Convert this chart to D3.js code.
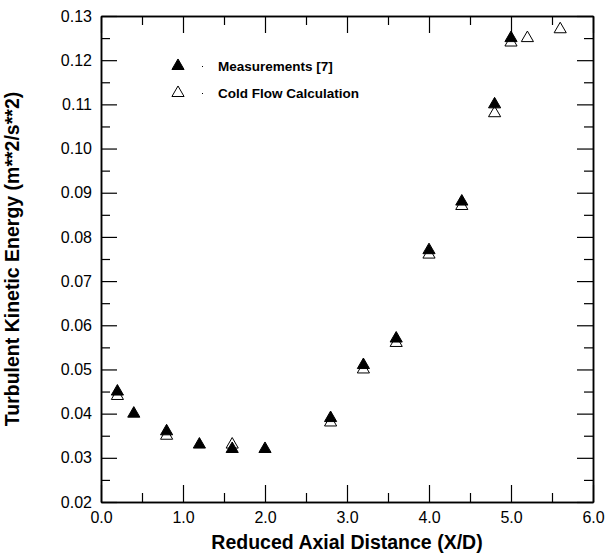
<!DOCTYPE html>
<html>
<head>
<meta charset="utf-8">
<script src="https://cdn.jsdelivr.net/npm/d3@7"></script>
<style>
  body { margin: 0; background: #fff; }
  text { font-family: "Liberation Sans", Arial, sans-serif; }
</style>
</head>
<body>
<div id="chart"></div>
<script>
const measX = [0.2, 0.4, 0.8, 1.2, 1.6, 2.0, 2.8, 3.2, 3.6, 4.0, 4.4, 4.8, 5.0];
const measY = [0.045, 0.040, 0.036, 0.033, 0.032, 0.032, 0.039, 0.051, 0.057, 0.077, 0.088, 0.110, 0.125];
const calcX = [0.2, 0.8, 1.6, 2.8, 3.2, 3.6, 4.0, 4.4, 4.8, 5.0, 5.2, 5.6];
const calcY = [0.044, 0.035, 0.033, 0.038, 0.050, 0.056, 0.076, 0.087, 0.108, 0.124, 0.125, 0.127];
const xMajor = [0, 1, 2, 3, 4, 5, 6];
const xMinor = [0.5, 1.5, 2.5, 3.5, 4.5, 5.5];
const yMajor = [0.02, 0.03, 0.04, 0.05, 0.06, 0.07, 0.08, 0.09, 0.10, 0.11, 0.12, 0.13];
const yMinor = [0.025, 0.035, 0.045, 0.055, 0.065, 0.075, 0.085, 0.095, 0.105, 0.115, 0.125];
const legendLabels = ["Measurements [7]", "Cold Flow Calculation"];

const W = 614, H = 555;
const margin = {top: 16, right: 21, bottom: 53, left: 101};
const width = W - margin.left - margin.right;
const height = H - margin.top - margin.bottom;

const svg = d3.select("#chart").append("svg")
    .attr("width", W)
    .attr("height", H)
  .append("g")
    .attr("transform", "translate(" + margin.left + "," + margin.top + ")");

const x = d3.scaleLinear().domain([0, 6]).range([0, width]);
const y = d3.scaleLinear().domain([0.02, 0.13]).range([height, 0]);

function styleAxis(g) {
    g.select(".domain").attr("stroke", "#000").attr("stroke-width", 1.5);
    g.selectAll(".tick line").attr("stroke", "#000").attr("stroke-width", 1.2);
    g.selectAll(".tick text").attr("fill", "#000")
        .style("font-family", "'Liberation Sans', Arial, sans-serif")
        .style("font-size", "16px");
}

// bottom axis with labels
svg.append("g")
    .attr("transform", "translate(0," + height + ")")
    .call(d3.axisBottom(x).tickValues(xMajor).tickFormat(d3.format(".1f"))
        .tickSizeInner(-17).tickSizeOuter(0).tickPadding(10))
    .call(styleAxis);
svg.append("g")
    .attr("transform", "translate(0," + height + ")")
    .call(d3.axisBottom(x).tickValues(xMinor).tickFormat("").tickSizeInner(-9).tickSizeOuter(0))
    .call(styleAxis);
// top axis
svg.append("g")
    .call(d3.axisTop(x).tickValues(xMajor).tickFormat("").tickSizeInner(-17).tickSizeOuter(0))
    .call(styleAxis);
svg.append("g")
    .call(d3.axisTop(x).tickValues(xMinor).tickFormat("").tickSizeInner(-9).tickSizeOuter(0))
    .call(styleAxis);

// left axis with labels
svg.append("g")
    .call(d3.axisLeft(y).tickValues(yMajor).tickFormat(d3.format(".2f"))
        .tickSizeInner(-16).tickSizeOuter(0).tickPadding(9))
    .call(styleAxis);
svg.append("g")
    .call(d3.axisLeft(y).tickValues(yMinor).tickFormat("").tickSizeInner(-9).tickSizeOuter(0))
    .call(styleAxis);
// right axis
svg.append("g")
    .attr("transform", "translate(" + width + ",0)")
    .call(d3.axisRight(y).tickValues(yMajor).tickFormat("").tickSizeInner(-16).tickSizeOuter(0))
    .call(styleAxis);
svg.append("g")
    .attr("transform", "translate(" + width + ",0)")
    .call(d3.axisRight(y).tickValues(yMinor).tickFormat("").tickSizeInner(-9).tickSizeOuter(0))
    .call(styleAxis);

// axis titles
svg.append("text")
    .attr("x", width / 2)
    .attr("y", height + 47)
    .attr("text-anchor", "middle")
    .style("font-size", "19.5px")
    .style("font-weight", "bold")
    .text("Reduced Axial Distance (X/D)");

svg.append("text")
    .attr("transform", "translate(" + (-82) + "," + (height / 2) + ") rotate(-90)")
    .attr("text-anchor", "middle")
    .style("font-size", "19.5px")
    .style("font-weight", "bold")
    .text("Turbulent Kinetic Energy (m**2/s**2)");

const tri = d3.symbol().type(d3.symbolTriangle).size(64);

// calculation (open) first, measurements on top
svg.selectAll(".calc")
    .data(calcX.map((d, i) => ({x: d, y: calcY[i]})))
    .enter().append("path")
    .attr("class", "calc")
    .attr("d", tri)
    .attr("transform", d => "translate(" + x(d.x) + "," + y(d.y) + ")")
    .attr("fill", "#fff")
    .attr("stroke", "#000")
    .attr("stroke-width", 1);

svg.selectAll(".meas")
    .data(measX.map((d, i) => ({x: d, y: measY[i]})))
    .enter().append("path")
    .attr("class", "meas")
    .attr("d", tri)
    .attr("transform", d => "translate(" + x(d.x) + "," + y(d.y) + ")")
    .attr("fill", "#000")
    .attr("stroke", "#000")
    .attr("stroke-width", 1);

// legend
const legend = svg.append("g").attr("transform", "translate(77,50)");
legendLabels.forEach((label, i) => {
    const g = legend.append("g").attr("transform", "translate(0," + (i * 27) + ")");
    g.append("path")
        .attr("d", tri)
        .attr("fill", i === 0 ? "#000" : "#fff")
        .attr("stroke", "#000")
        .attr("stroke-width", 1);
    g.append("rect")
        .attr("x", 24).attr("y", 0).attr("width", 1).attr("height", 1)
        .attr("fill", "#000");
    g.append("text")
        .attr("x", 40)
        .attr("y", 5)
        .style("font-size", "13.5px")
        .style("font-weight", "bold")
        .text(label);
});
</script>
</body>
</html>
